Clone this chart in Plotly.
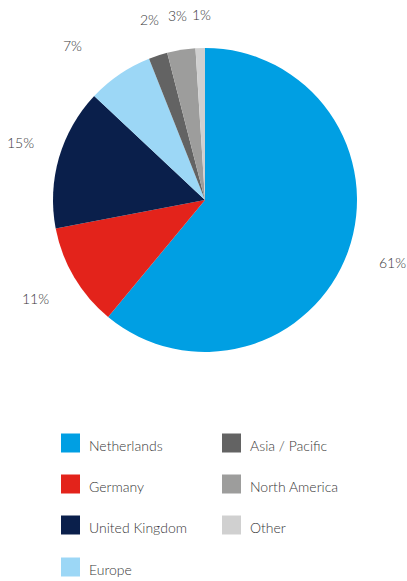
import math
import plotly.graph_objects as go

# Revenue split by region (percent)
regions = ["Netherlands", "Germany", "United Kingdom", "Europe",
           "Asia / Pacific", "North America", "Other"]
shares = [61, 11, 15, 7, 2, 3, 1]
colors = ["#009FE3", "#E3231B", "#0A1F4B", "#9CD7F6",
          "#636363", "#9D9D9C", "#D0D0D0"]

W, H = 407, 581
cx, cy, R = 205, 200, 152  # pie centre and radius in px

fig = go.Figure()
fig.add_trace(go.Pie(
    labels=regions, values=shares, sort=False, direction="clockwise",
    rotation=0, marker=dict(colors=colors, line=dict(width=0)),
    textinfo="none", hoverinfo="label+percent", showlegend=False,
    domain=dict(x=[(cx - R) / W, (cx + R) / W],
                y=[1 - (cy + R) / H, 1 - (cy - R) / H]),
))

font = dict(family="Lato, 'Open Sans', sans-serif", size=14,
            color="#383838", weight=300)
annotations = []
shapes = []

# Percentage labels placed outside each slice near its mid-angle
total = sum(shares)
cum = 0
label_r = [1.30, 1.29, 1.27, 1.34, 1.24, 1.23, 1.22]
angle_nudge = [-1.5, 0.5, 1.0, -6.5, 1.0, 0.5, 0.8]  # degrees
for v, k, dn in zip(shares, label_r, angle_nudge):
    mid = (cum + v / 2) / total * 2 * math.pi + math.radians(dn)
    cum += v
    x = cx + k * R * math.sin(mid)
    y = cy - k * R * math.cos(mid)
    annotations.append(dict(
        x=x / W, y=1 - y / H, xref="paper", yref="paper",
        text=f"{v}%", showarrow=False, font=font,
        xanchor="center", yanchor="middle"))

# Two-column legend with square swatches
col_x = [61, 222]
row_y = [443, 484, 525, 567]
sq = 19
for i, (name, c) in enumerate(zip(regions, colors)):
    col = 0 if i < 4 else 1
    row = i if i < 4 else i - 4
    x0 = col_x[col]
    yc = row_y[row]
    shapes.append(dict(
        type="rect", xref="paper", yref="paper",
        x0=x0 / W, x1=(x0 + sq) / W,
        y0=1 - (yc + sq / 2) / H, y1=1 - (yc - sq / 2) / H,
        fillcolor=c, line=dict(width=0)))
    annotations.append(dict(
        x=(x0 + sq + 7) / W, y=1 - (yc + 2) / H, xref="paper", yref="paper",
        text=name, showarrow=False, font=font,
        xanchor="left", yanchor="middle"))

fig.update_layout(
    width=W, height=H, margin=dict(l=0, r=0, t=0, b=0),
    paper_bgcolor="white", plot_bgcolor="white",
    annotations=annotations, shapes=shapes,
)

fig.write_html("out.html")
